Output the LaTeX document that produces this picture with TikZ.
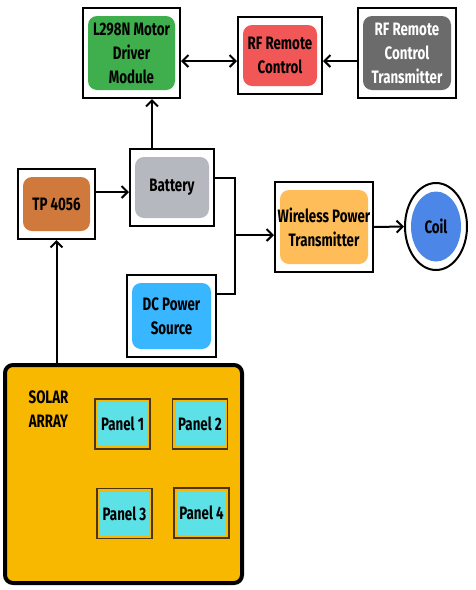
\documentclass[tikz,border=0pt]{standalone}
\usepackage{fontspec}
\setmainfont{Fira Sans}[FakeStretch=0.74]
\usepackage{tikz}
\usetikzlibrary{positioning}
\usetikzlibrary{calc,arrows.meta}
\usetikzlibrary{shapes.geometric}
\definecolor{sa-green}{HTML}{3FAE4C}
\definecolor{sa-red}{HTML}{F25757}
\definecolor{sa-grey}{HTML}{6B6B6B}
\definecolor{sa-copper}{HTML}{CF7A3C}
\definecolor{sa-silver}{HTML}{B5B8BE}
\definecolor{sa-amber}{HTML}{FFBD59}
\definecolor{sa-blue}{HTML}{4C86E6}
\definecolor{sa-sky}{HTML}{38B6FF}
\definecolor{sa-solar}{HTML}{F8B800}
\definecolor{sa-cyan}{HTML}{5CE1E6}
\definecolor{sa-brown}{HTML}{4A3414}

\begin{document}
\begin{tikzpicture}[
    x=1pt, y=-1pt, % pixel grid of the layout
    font=\bfseries\fontsize{18}{24}\selectfont,
    >={Straight Barb[length=6pt,width=12pt]}
  ]

  % Block styles: framed box with a rounded coloured core
  \tikzset{
    blk/.style={draw, line width=2pt, fill=white, inner sep=0pt, align=center,
      path picture={\fill[#1, rounded corners=9pt]
        ([shift={(5pt,-8pt)}]path picture bounding box.north west) rectangle
        ([shift={(-5pt,8pt)}]path picture bounding box.south east);}},
    panel/.style={draw=sa-brown, line width=1.2pt, fill=sa-solar, inner sep=0pt,
      minimum width=55pt, minimum height=50pt,
      path picture={\fill[sa-cyan]
        ([shift={(3pt,-3pt)}]path picture bounding box.north west) rectangle
        ([shift={(-3pt,3pt)}]path picture bounding box.south east);}},
    link/.style={line width=2pt}
  }

  \useasboundingbox (0,0) rectangle (475,590);

  % Control chain along the top
  \node (l298) [blk=sa-green, minimum width=97pt, minimum height=90pt] at (131.5,53) {L298N Motor\\Driver\\Module};
  \node (rf)   [blk=sa-red, minimum width=84pt, minimum height=77pt] at (280,55.5) {RF Remote\\Control};
  \node (tx)   [blk=sa-grey, text=white, minimum width=98pt, minimum height=90pt] at (407,53) {RF Remote\\Control\\Transmitter};

  % Charging and power blocks
  \node (tp)   [blk=sa-copper, minimum width=77pt, minimum height=70pt] at (56.5,204) {TP 4056};
  \node (bat)  [blk=sa-silver, minimum width=84pt, minimum height=77pt] at (172,187.5) {Battery};
  \node (dc)   [blk=sa-sky, minimum width=89pt, minimum height=82pt] at (171.5,316) {DC Power\\Source};
  \node (wp)   [blk=sa-amber, minimum width=98pt, minimum height=90pt] at (324,227) {Wireless Power\\Transmitter};
  \node (coil) [draw, ellipse, line width=2pt, fill=white, inner sep=0pt,
    minimum width=62pt, minimum height=87pt,
    path picture={\fill[sa-blue] (path picture bounding box.center) ellipse [x radius=25pt, y radius=35pt];}]
    at (436,226.5) {Coil};

  % Solar array with its panels
  \node (solar) [draw, line width=4pt, rounded corners=8pt, fill=sa-solar,
    minimum width=237pt, minimum height=218pt] at (123.5,474) {};
  \node (label) [align=center] at (48.5,409) {SOLAR\\ARRAY};
  \node (p1) [panel] at (122.5,424) {Panel 1};
  \node (p2) [panel] at (200,424) {Panel 2};
  \node (p3) [panel] at (124.5,513.5) {Panel 3};
  \node (p4) [panel] at (201.5,513) {Panel 4};

  % Connections
  \draw[<->, link] ([yshift=-8pt]l298.east) -- ([yshift=-8pt]l298.east -| rf.west);
  \draw[->, link] ([yshift=-8pt]tx.west) -- ([yshift=-8pt]tx.west -| rf.east);
  \draw[->, link] ([xshift=-20pt]bat.north) -- ([xshift=-20pt]bat.north |- l298.south);
  \draw[->, link] ([yshift=12pt]tp.east) -- ([yshift=12pt]tp.east -| bat.west);
  \coordinate (jn) at (235,235);
  \draw[link] ([yshift=10pt]bat.east) -| (jn) |- ([yshift=22pt]dc.east);
  \draw[->, link] (jn) -- (jn -| wp.west);
  \draw[->, link] (wp.east) -- (coil.west);
  \draw[->, link] (solar.north -| tp.south) -- (tp.south);

\end{tikzpicture}
\end{document}
